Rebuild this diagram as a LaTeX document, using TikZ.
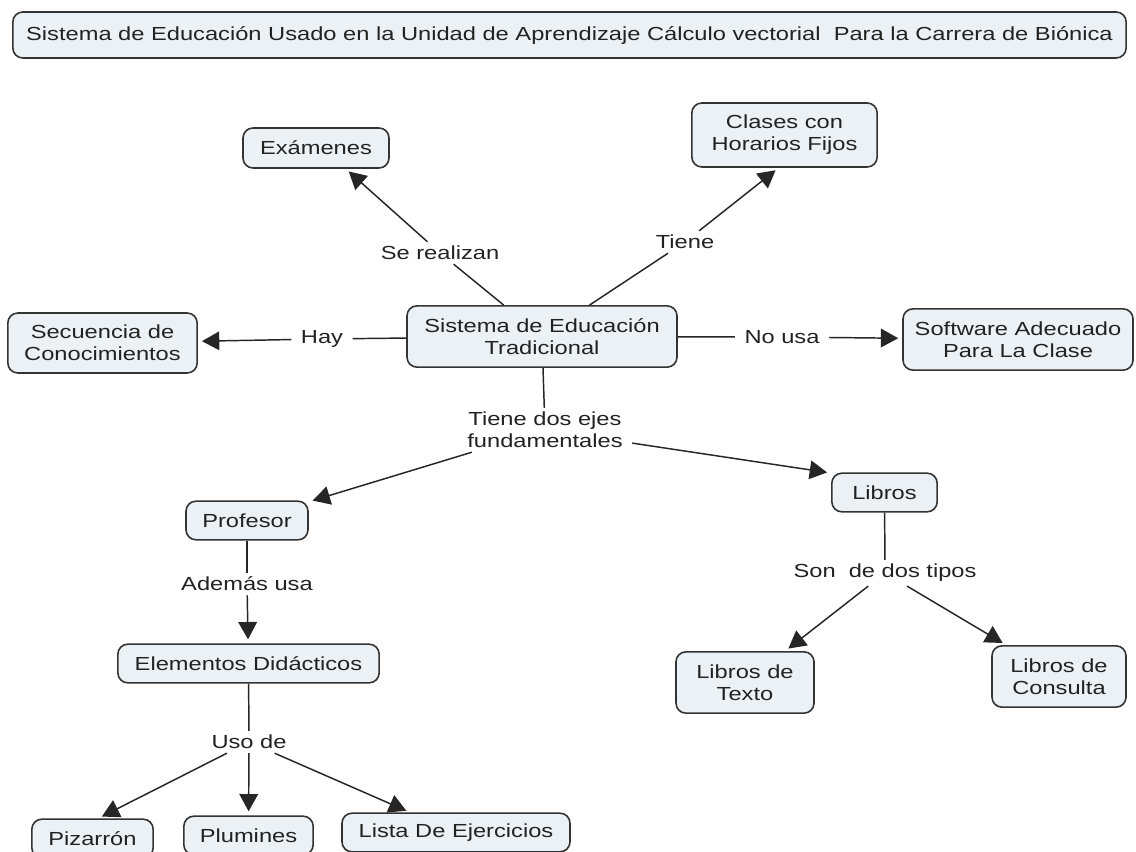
\documentclass[tikz,border=0pt]{standalone}
\usepackage{fontspec}
\setmainfont{Liberation Sans}[FakeStretch=1.25]
\usetikzlibrary{arrows.meta}
\definecolor{boxfill}{HTML}{EBF1F4}
\definecolor{boxdraw}{HTML}{333333}
\definecolor{txt}{HTML}{222222}
\begin{document}
\begin{tikzpicture}[
  x=0.75pt, y=-0.75pt,
  font=\fontsize{14.2}{16.5}\selectfont,
  concept/.style={draw=boxdraw, line width=1.2pt, fill=boxfill, rounded corners=7.5pt,
    text=txt, align=center, inner sep=0pt},
  linkl/.style={text=txt, align=center, inner xsep=7pt, inner ysep=3pt},
  conn/.style={draw=black!85, line width=1.1pt},
  arr/.style={conn, -{Triangle[length=13pt,width=14pt]}, shorten >=3pt}
]
\useasboundingbox (0,0) rectangle (1136,852);
\clip (0,0) rectangle (1136,852);
\fill[white] (0,0) rectangle (1136,852);

% concepts
\node[concept, minimum width=835pt, minimum height=34.5pt] (title) at (569.5,35)
  {Sistema de Educación Usado en la Unidad de Aprendizaje Cálculo vectorial~ Para la Carrera de Biónica};
\node[concept, minimum width=109.5pt, minimum height=30pt] (exam) at (316,148) {Exámenes};
\node[concept, minimum width=139pt, minimum height=48pt] (clases) at (784.5,135) {Clases con\\Horarios Fijos};
\node[concept, minimum width=142pt, minimum height=45pt] (sec) at (102.5,343) {Secuencia de\\Conocimientos};
\node[concept, minimum width=202.5pt, minimum height=46pt] (center) at (542,336.5) {Sistema de Educación\\Tradicional};
\node[concept, minimum width=172.5pt, minimum height=46pt] (soft) at (1018,339.5) {Software Adecuado\\Para La Clase};
\node[concept, minimum width=91.5pt, minimum height=29pt] (prof) at (247,520.5) {Profesor};
\node[concept, minimum width=79pt, minimum height=29pt] (libros) at (884.5,492.5) {Libros};
\node[concept, minimum width=196pt, minimum height=29pt] (elem) at (248.5,663.5) {Elementos Didácticos};
\node[concept, minimum width=103.5pt, minimum height=46pt] (ltexto) at (745,682.5) {Libros de\\Texto};
\node[concept, minimum width=100.5pt, minimum height=46pt] (lcons) at (1059,676.5) {Libros de\\Consulta};
\node[concept, minimum width=91pt, minimum height=29pt] (piz) at (92.5,838.5) {Pizarrón};
\node[concept, minimum width=97pt, minimum height=29pt] (plum) at (248.5,835.5) {Plumines};
\node[concept, minimum width=171pt, minimum height=29pt] (lista) at (456,832.5) {Lista De Ejercicios};

% link labels
\node[linkl] (lsr) at (440,253) {Se realizan};
\node[linkl] (lti) at (685,242) {Tiene};
\node[linkl] (lhay) at (322,339) {Hay};
\node[linkl] (lno) at (782,337) {No usa};
\node[linkl] (lejes) at (545,430) {Tiene dos ejes\\fundamentales};
\node[linkl] (ladem) at (247,584) {Además usa};
\node[linkl] (lson) at (885,573) {Son~ de dos tipos};
\node[linkl] (luso) at (249,742) {Uso de};

% connectors
\draw[conn] (center) -- (lsr);
\draw[arr] (lsr) -- (exam.-35);
\draw[conn] (center) -- (lti);
\draw[arr] (lti) -- (clases.-100);
\draw[conn] (center) -- (lhay);
\draw[arr] (lhay) -- (sec);
\draw[conn] (center) -- (lno);
\draw[arr] (lno) -- (soft);
\draw[conn] (center) -- (lejes);
\draw[arr] (lejes) -- (prof);
\draw[arr] (lejes) -- (libros.160);
\draw[conn] (prof) -- (ladem);
\draw[arr] (ladem) -- (elem);
\draw[conn] (libros) -- (lson);
\draw[arr] (lson) -- (ltexto);
\draw[arr] (lson) -- (lcons);
\draw[conn] (elem) -- (luso);
\draw[arr] (luso) -- (piz.74);
\draw[arr] (luso) -- (plum);
\draw[arr] (luso) -- (lista);
\end{tikzpicture}
\end{document}
